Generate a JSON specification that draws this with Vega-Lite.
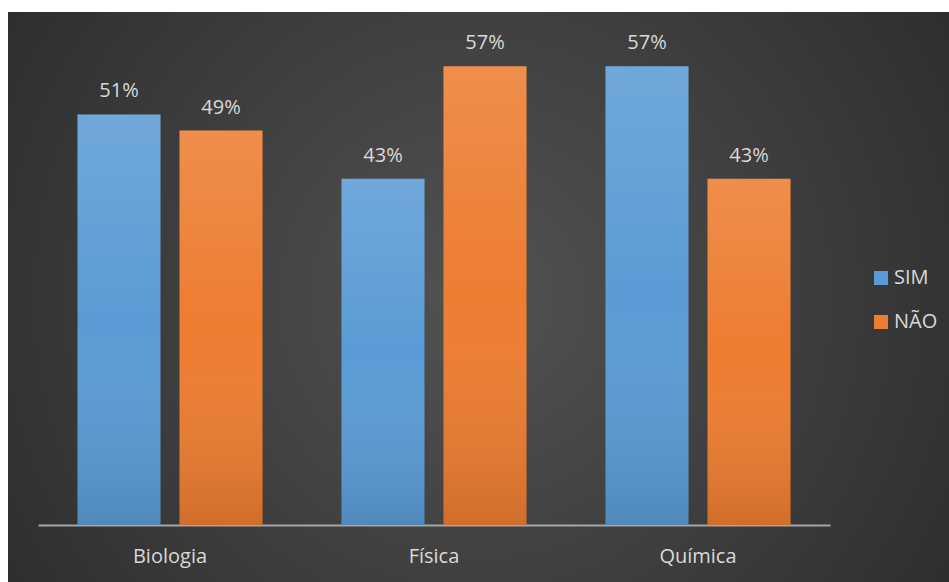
{
  "$schema": "https://vega.github.io/schema/vega-lite/v6.json",
  "width": 941,
  "height": 570,
  "autosize": {"type": "none"},
  "padding": {"left": 8, "top": 12, "right": 0, "bottom": 0},
  "background": "#ffffff",
  "config": {
    "view": {
      "stroke": null,
      "fill": {
        "gradient": "radial",
        "x1": 0.5, "y1": 0.5, "r1": 0,
        "x2": 0.5, "y2": 0.5, "r2": 0.75,
        "stops": [
          {"offset": 0, "color": "#525252"},
          {"offset": 1, "color": "#242424"}
        ]
      }
    },
    "font": "Open Sans"
  },
  "data": {
    "values": [
      {"disciplina": "Biologia", "resposta": "SIM", "valor": 0.51},
      {"disciplina": "Biologia", "resposta": "NÃO", "valor": 0.49},
      {"disciplina": "Física", "resposta": "SIM", "valor": 0.43},
      {"disciplina": "Física", "resposta": "NÃO", "valor": 0.57},
      {"disciplina": "Química", "resposta": "SIM", "valor": 0.57},
      {"disciplina": "Química", "resposta": "NÃO", "valor": 0.43}
    ]
  },
  "encoding": {
    "x": {
      "field": "disciplina",
      "type": "nominal",
      "sort": ["Biologia", "Física", "Química"],
      "scale": {"range": [30, 822], "paddingInner": 0, "paddingOuter": 0},
      "axis": {
        "title": null,
        "offset": -57,
        "labelAngle": 0,
        "labelFontSize": 20,
        "labelColor": "#d9d9d9",
        "labelPadding": 21,
        "ticks": false,
        "domainColor": "#a6a6a6",
        "domainWidth": 2,
        "grid": false
      }
    },
    "xOffset": {
      "field": "resposta",
      "type": "nominal",
      "sort": ["SIM", "NÃO"],
      "scale": {"paddingInner": 0.186, "paddingOuter": 0.387}
    },
    "y": {
      "field": "valor",
      "type": "quantitative",
      "scale": {"domain": [0, 0.6], "range": [513, 30], "nice": false, "zero": true},
      "axis": null
    }
  },
  "layer": [
    {
      "mark": {"type": "bar"},
      "encoding": {
        "color": {
          "field": "resposta",
          "type": "nominal",
          "sort": ["SIM", "NÃO"],
          "scale": {"domain": ["SIM", "NÃO"], "range": ["#5b9bd5", "#ed7d31"]},
          "legend": {
            "title": null,
            "orient": "none",
            "legendX": 863,
            "legendY": 256,
            "symbolType": "square",
            "symbolSize": 196,
            "symbolStrokeWidth": 0,
            "labelFontSize": 20,
            "labelColor": "#d9d9d9",
            "labelOffset": 3,
            "rowPadding": 24
          }
        }
      }
    },
    {
      "mark": {
        "type": "bar",
        "fill": {
          "gradient": "linear",
          "x1": 0, "y1": 0, "x2": 0, "y2": 1,
          "stops": [
            {"offset": 0, "color": "rgba(255,255,255,0.13)"},
            {"offset": 0.5, "color": "rgba(255,255,255,0)"},
            {"offset": 1, "color": "rgba(0,0,0,0.12)"}
          ]
        }
      },
      "encoding": {}
    },
    {
      "mark": {
        "type": "text",
        "baseline": "alphabetic",
        "dy": -17,
        "fontSize": 20,
        "color": "#d9d9d9"
      },
      "encoding": {
        "text": {"field": "valor", "type": "quantitative", "format": ".0%"}
      }
    }
  ]
}
